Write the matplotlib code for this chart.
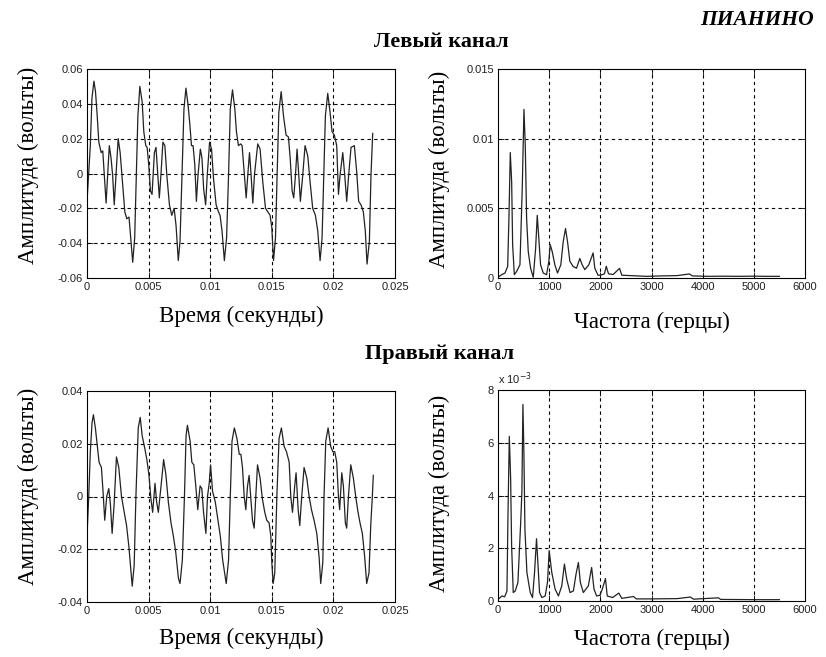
import matplotlib
matplotlib.use("Agg")
import matplotlib.pyplot as plt
import numpy as np

# ---------------- data ----------------
# Left channel, time in ms, amplitude in mV
left_t_ms = [0.00, 0.13, 0.27, 0.40, 0.56, 0.69, 0.83, 0.96, 1.15, 1.28, 1.41, 1.55, 1.68, 1.81,
             1.95, 2.08, 2.21, 2.35, 2.53, 2.69, 2.88, 3.07, 3.23, 3.41, 3.55, 3.71, 3.87, 4.00,
             4.13, 4.29, 4.48, 4.61, 4.77, 4.88, 5.01, 5.15, 5.28, 5.47, 5.60, 5.73, 5.87, 6.00,
             6.16, 6.32, 6.48, 6.69, 6.88, 7.07, 7.23, 7.41, 7.55, 7.71, 7.87, 8.03, 8.21, 8.35,
             8.48, 8.61, 8.75, 8.88, 9.01, 9.20, 9.33, 9.47, 9.63, 9.76, 9.95, 10.11, 10.27, 10.48,
             10.67, 10.80, 10.96, 11.15, 11.33, 11.49, 11.63, 11.81, 12.00, 12.13, 12.29, 12.48,
             12.59, 12.78, 12.92, 13.05, 13.19, 13.32, 13.46, 13.59, 13.86, 14.05, 14.27, 14.49,
             14.68, 14.86, 15.00, 15.14, 15.30, 15.43, 15.57, 15.76, 15.95, 16.16, 16.35, 16.49,
             16.65, 16.78, 16.92, 17.05, 17.19, 17.32, 17.51, 17.70, 17.92, 18.11, 18.32, 18.54,
             18.73, 18.92, 19.08, 19.22, 19.35, 19.54, 19.73, 19.89, 20.08, 20.27, 20.41, 20.54,
             20.76, 20.92, 21.08, 21.24, 21.43, 21.70, 21.89, 22.05, 22.24, 22.43, 22.59, 22.73,
             22.92, 23.05, 23.19]
left_mv = [-16, -1, 16, 43, 53, 47, 33, 18, 12, 13, -1, -17, -1, 16,
           9, -1, -18, -1, 20, 12, -5, -22, -26, -25, -37, -51, -37, -3,
           33, 50, 41, 24, 16, 15, 5, -10, -12, 12, 15, 1, -14, -1,
           18, 16, -1, -18, -24, -20, -30, -50, -39, -1, 37, 49, 39, 28,
           16, 16, 5, -16, -1, 14, 9, -9, -18, -1, 18, 14, -3, -18,
           -22, -24, -33, -50, -37, -1, 37, 48, 37, 24, 16, 17,
           16, -1, -14, -1, 12, -1, -17, -1, 17, 14, -5, -20,
           -22, -24, -31, -50, -37, -1, 35, 47, 33, 22, 21, 9,
           -10, -14, -1, 14, -1, -16, -1, 16, 10, -5, -20, -24,
           -33, -50, -37, -1, 33, 46, 35, 24, 22, 16, -12, -1,
           12, -1, -16, -1, 15, 16, 1, -16, -18, -22, -33, -52,
           -39, -1, 23]

# Right channel, time in ms, amplitude in mV
right_t_ms = [0.00, 0.14, 0.27, 0.41, 0.52, 0.68, 0.84, 0.98, 1.17, 1.30, 1.44, 1.60, 1.77, 1.90,
              2.04, 2.20, 2.39, 2.58, 2.80, 3.02, 3.21, 3.40, 3.53, 3.67, 3.83, 3.97, 4.16, 4.32,
              4.48, 4.70, 4.86, 5.03, 5.19, 5.33, 5.52, 5.65, 5.79, 6.01, 6.22, 6.41, 6.60, 6.82,
              7.01, 7.20, 7.42, 7.55, 7.74, 7.91, 8.04, 8.15, 8.37, 8.51, 8.67, 8.83, 8.99, 9.18,
              9.32, 9.46, 9.65, 9.78, 9.92, 10.03, 10.19, 10.41, 10.63, 10.82, 11.01, 11.17, 11.30,
              11.49, 11.63, 11.77, 11.96, 12.17, 12.36, 12.49,
              12.62, 12.76, 12.89, 13.03, 13.16, 13.30, 13.43, 13.57, 13.70, 13.84, 14.05, 14.24,
              14.43, 14.59, 14.78, 14.92, 15.00, 15.11, 15.24, 15.41, 15.59, 15.78, 16.00, 16.19,
              16.41, 16.54, 16.68, 16.86, 16.97, 17.14, 17.27, 17.43, 17.62, 17.84, 18.03, 18.22,
              18.43, 18.65, 18.84, 18.97, 19.14, 19.24, 19.38, 19.57, 19.78, 19.95, 20.11, 20.27,
              20.41, 20.51, 20.68, 20.81, 20.97, 21.08, 21.22, 21.41, 21.62, 21.81, 22.00, 22.16,
              22.35, 22.54, 22.70, 22.89, 23.03, 23.16, 23.24]
right_mv = [-15, 0, 17, 28, 31, 26, 19, 13, 11, 2, -9, 0, 3, -3,
            -14, -3, 15, 11, 0, -6, -11, -19, -26, -34, -26, 0, 26, 30,
            23, 18, 14, 8, -1, -6, 5, -2, -6, 4, 14, 8, -2, -10,
            -15, -21, -31, -33, -24, 0, 23, 27, 21, 13, 12, 4, -5, 4,
            3, -6, -14, 0, 5, 12, 2, -2, -9, -15, -24, -29, -33,
            -24, 0, 21, 26, 22, 16, 16,
            11, 0, -5, 4, 8, -1, -9, -12, 0, 12, 7, -1,
            -6, -9, -10, -15, -25, -33, -29, 0, 22, 26, 19, 17,
            13, 0, -6, 4, 9, -5, -11, 0, 11, 7, 0, -5,
            -9, -14, -23, -33, -25, 0, 21, 26, 19, 17, 17, 13,
            0, -5, 9, 4, -10, -12, 0, 12, 7, 0, -6, -10,
            -14, -23, -33, -29, -11, 0, 8]

# Left spectrum: frequency (Hz), amplitude (x1e-3 V)
left_f_hz = [0, 72, 137, 189, 215, 240, 267, 286, 319, 364, 429, 475, 507, 533, 559, 591, 637,
             689, 735, 767, 793, 832, 884, 949, 994, 1020, 1059, 1111, 1163, 1228, 1274, 1320,
             1359, 1404, 1469, 1534, 1599, 1645, 1697, 1775, 1859, 1892, 1957, 2035, 2080, 2116,
             2160, 2250, 2376, 2420, 2600, 2900, 3200, 3500, 3740, 3800, 4100, 4400, 4700, 5000,
             5250, 5500]
left_amp_mv = [0.05, 0.24, 0.36, 0.83, 4.5, 9.0, 6.9, 2.4, 0.24, 0.47, 0.95, 6.6, 12.1, 9.5, 4.3,
               1.9, 0.7, 0.05, 2.1, 4.5, 3.1, 0.95, 0.36, 0.24, 1.2, 2.4, 1.9, 0.95, 0.36, 0.95,
               2.6, 3.55, 2.6, 1.2, 0.83, 0.7, 1.4, 0.95, 0.6, 0.95, 1.8, 0.7, 0.19, 0.24, 0.3,
               0.84, 0.3, 0.25, 0.69, 0.2, 0.17, 0.12, 0.15, 0.17, 0.29, 0.15, 0.12, 0.13, 0.12,
               0.13, 0.12, 0.12]

# Right spectrum: frequency (Hz), amplitude (x1e-3 V)
right_f_hz = [0, 78, 130, 175, 195, 221, 247, 266, 298, 337, 389, 441, 467, 487, 506, 526, 565,
              630, 675, 714, 753, 779, 812, 857, 922, 967, 1000, 1051, 1116, 1181, 1246, 1298,
              1343, 1408, 1473, 1525, 1571, 1610, 1668, 1765, 1830, 1876, 1928, 1993, 2038, 2100,
              2135, 2240, 2360, 2420, 2650, 2700, 3000, 3500, 3760, 3820, 4310, 4350, 5000, 5500]
right_amp_mv = [0.06, 0.19, 0.16, 0.38, 3.25, 6.24, 4.65, 2.1, 0.32, 0.38, 0.7, 2.87, 4.14, 7.45,
                5.67, 2.74, 1.08, 0.32, 0.13, 1.08, 2.36, 1.46, 0.32, 0.13, 0.19, 0.7, 1.91, 1.08,
                0.45, 0.19, 0.57, 1.40, 0.83, 0.32, 0.38, 1.02, 1.46, 0.70, 0.32, 0.57, 1.27, 0.45,
                0.19, 0.22, 0.45, 0.85, 0.19, 0.13, 0.3, 0.1, 0.17, 0.08, 0.08, 0.09, 0.15, 0.07,
                0.12, 0.06, 0.05, 0.05]

time_ticks = [0, 0.005, 0.01, 0.015, 0.02, 0.025]
time_tick_labels = ["0", "0.005", "0.01", "0.015", "0.02", "0.025"]
freq_ticks = [0, 1000, 2000, 3000, 4000, 5000, 6000]
freq_tick_labels = ["0", "1000", "2000", "3000", "4000", "5000", "6000"]
left_yticks = [-0.06, -0.04, -0.02, 0, 0.02, 0.04, 0.06]
left_ytick_labels = ["-0.06", "-0.04", "-0.02", "0", "0.02", "0.04", "0.06"]
right_yticks = [-0.04, -0.02, 0, 0.02, 0.04]
right_ytick_labels = ["-0.04", "-0.02", "0", "0.02", "0.04"]
spec_l_yticks = [0, 0.005, 0.01, 0.015]
spec_l_ytick_labels = ["0", "0.005", "0.01", "0.015"]
spec_r_yticks = [0, 0.002, 0.004, 0.006, 0.008]
spec_r_ytick_labels = ["0", "2", "4", "6", "8"]

# ---------------- figure ----------------
W, H = 826, 657
fig = plt.figure(figsize=(W / 100, H / 100), dpi=100)
fig.patch.set_facecolor("white")

SERIF = ["Liberation Serif", "DejaVu Serif"]
SANS = ["Liberation Sans", "DejaVu Sans"]


def px_axes(x0, y0, x1, y1):
    return fig.add_axes([x0 / W, 1 - y1 / H, (x1 - x0) / W, (y1 - y0) / H])


ax1 = px_axes(87, 69, 395, 278)
ax2 = px_axes(498, 69, 805, 278)
ax3 = px_axes(87, 391, 395, 602)
ax4 = px_axes(498, 390, 805, 601)

line_kw = dict(color="#222222", lw=0.9)

ax1.plot(np.array(left_t_ms) * 1e-3, np.array(left_mv) * 1e-3, **line_kw)
ax3.plot(np.array(right_t_ms) * 1e-3, np.array(right_mv) * 1e-3, **line_kw)
ax2.plot(left_f_hz, np.array(left_amp_mv) * 1e-3, **line_kw)
ax4.plot(right_f_hz, np.array(right_amp_mv) * 1e-3, **line_kw)


def style(ax, xt, xtl, yt, ytl, xlabel, ylabel, xlab_y, ylab_y):
    ax.set_xlim(xt[0], xt[-1])
    ax.set_ylim(yt[0], yt[-1])
    ax.set_xticks(xt)
    ax.set_xticklabels(xtl, fontfamily=SANS, fontsize=8, color="#202020")
    ax.set_yticks(yt)
    ax.set_yticklabels(ytl, fontfamily=SANS, fontsize=8, color="#202020")
    ax.tick_params(direction="in", length=4, width=0.6, top=True, right=True, pad=3)
    for v in xt[1:-1]:
        ax.axvline(v, color="black", lw=0.8, ls=(0, (3, 3)), zorder=0)
    for v in yt[1:-1]:
        ax.axhline(v, color="black", lw=0.8, ls=(0, (3, 3)), zorder=0)
    for s in ax.spines.values():
        s.set_linewidth(0.8)
        s.set_color("black")
    ax.set_xlabel(xlabel, fontfamily=SERIF, fontsize=16.5)
    ax.set_ylabel(ylabel, fontfamily=SERIF, fontsize=16.5)
    ax.xaxis.set_label_coords(0.5, xlab_y)
    ax.yaxis.set_label_coords(-0.155, ylab_y)


style(ax1, time_ticks, time_tick_labels, left_yticks, left_ytick_labels,
      "Время (секунды)", "Амплитуда (вольты)", -0.134, 0.54)
style(ax3, time_ticks, time_tick_labels, right_yticks, right_ytick_labels,
      "Время (секунды)", "Амплитуда (вольты)", -0.123, 0.55)
style(ax2, freq_ticks, freq_tick_labels, spec_l_yticks, spec_l_ytick_labels,
      "Частота (герцы)", "Амплитуда (вольты)", -0.163, 0.52)
style(ax4, freq_ticks, freq_tick_labels, spec_r_yticks, spec_r_ytick_labels,
      "Частота (герцы)", "Амплитуда (вольты)", -0.13, 0.51)

ax4.text(0.0, 1.015, r"x 10$^{-3}$", transform=ax4.transAxes, fontsize=8,
         fontfamily=SANS, ha="left", va="bottom", color="#202020")

fig.text(757 / W, 1 - 20 / H, "ПИАНИНО", fontfamily=SERIF, fontsize=15.5,
         fontweight="bold", fontstyle="italic", ha="center", va="center")
fig.text(441 / W, 1 - 42 / H, "Левый канал", fontfamily=SERIF, fontsize=16,
         fontweight="bold", ha="center", va="center")
fig.text(440 / W, 1 - 354 / H, "Правый канал", fontfamily=SERIF, fontsize=16,
         fontweight="bold", ha="center", va="center")

fig.savefig("out.png", dpi=100, facecolor="white")
